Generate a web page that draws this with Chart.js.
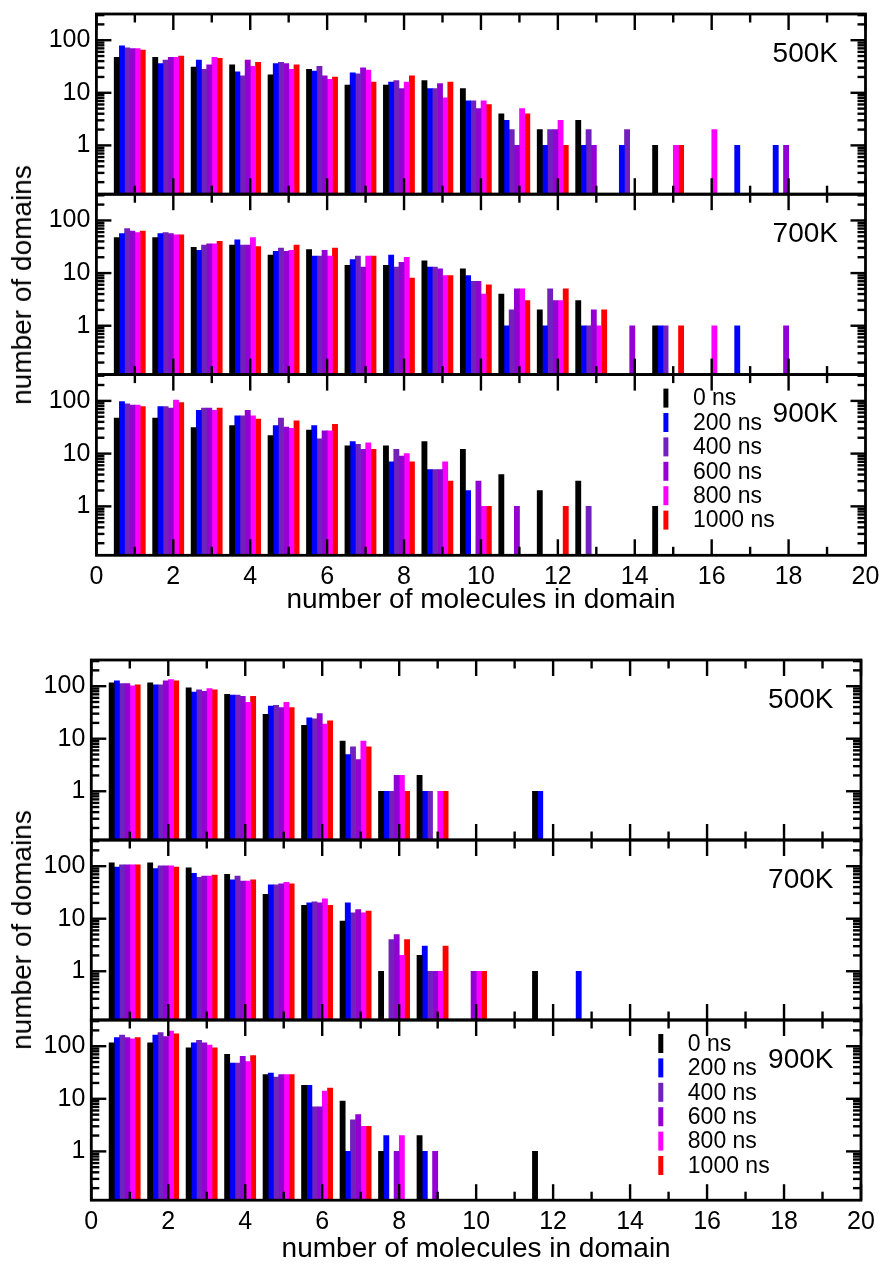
<!DOCTYPE html>
<html>
<head>
<meta charset="utf-8">
<title>Domain size distributions</title>
<script src="https://cdn.jsdelivr.net/npm/chart.js@4.4.1/dist/chart.umd.min.js"></script>
<style>
  html, body { margin:0; padding:0; background:#fff; overflow:hidden; }
  #page { position:relative; width:889px; height:1268px; overflow:hidden; background:#fff; }
  #page canvas { position:absolute; left:0; }
  .ytitle { position:absolute; font-family:"Liberation Sans", Arial, sans-serif; font-size:28px; color:#000;
            white-space:nowrap; transform:translate(-50%,-50%) rotate(-90deg); }
</style>
</head>
<body>
<div id="page"></div>
<script>
// ---------------- data ----------------
const moleculeCounts = [1,2,3,4,5,6,7,8,9,10,11,12,13,14,15,16,17,18];
const seriesLabels = ['0 ns','200 ns','400 ns','600 ns','800 ns','1000 ns'];
const temperatureLabels = ['500K','700K','900K'];
const xTickValues = [0,2,4,6,8,10,12,14,16,18,20];
const yTickValues = [1,10,100];
const xAxisTitle = 'number of molecules in domain';
const yAxisTitle = 'number of domains';

// upper figure
const top_0ns       = [47, 47, 31, 34, 22, 28, 14, 14, 17, 12, 4, 2, 3, null, 1];
const top500_200ns  = [78, 36, 42, 25, 36, 26, 24, 16, 12, 7, 3, 1, 1, 1, null, null, 1, 1];
const top500_400ns  = [72, 42, 28, 21, 38, 32, 23, 17, 12, 7, 2, 2, 2, 2];
const top500_600ns  = [69, 47, 34, 42, 36, 21, 30, 12, 15, 5, 1, 2, 1, null, null, null, null, 1];
const top500_800ns  = [69, 47, 47, 32, 28, 18, 27, 16, 8, 7, 5, 3, null, null, 1, 2];
const top500_1000ns = [65, 50, 45, 38, 34, 20, 16, 21, 16, 6, 4, 1, null, null, 1];

const top700_200ns  = [56, 56, 27, 43, 26, 21, 18, 22, 13, 9, 1, 1, 1, null, 1, null, 1];
const top700_400ns  = [70, 59, 34, 34, 30, 21, 21, 13, 13, 7, 2, 5, 1, null, 1];
const top700_600ns  = [63, 56, 36, 34, 26, 27, 13, 16, 12, 7, 5, 3, 2, 1, null, null, null, 1];
const top700_800ns  = [59, 53, 36, 47, 27, 21, 21, 20, 9, 4, 5, 3, 1, null, null, 1];
const top700_1000ns = [63, 53, 40, 32, 34, 30, 21, 8, 9, 6, 3, 5, 2, null, 1];

const top900_200ns  = [97, 78, 66, 52, 34, 34, 17, 7, 5, 2];
const top900_400ns  = [88, 78, 73, 52, 47, 19, 15, 12, 5, null, null, null, 1];
const top900_600ns  = [83, 73, 73, 66, 32, 27, 12, 9, 5, 3, 1];
const top900_800ns  = [83, 103, 66, 52, 30, 27, 16, 10, 7, 1];
const top900_1000ns = [78, 93, 73, 45, 42, 36, 12, 7, 3, 1, null, 1];

// lower figure
const bottom_0ns       = [116, 116, 93, 70, 29, 18, 9, 1, 2, null, null, 1];
const bottom500_200ns  = [126, 106, 77, 68, 42, 25, 5, 1, 1, null, null, 1];
const bottom500_400ns  = [112, 106, 85, 68, 43, 24, 7, 1, 1];
const bottom500_600ns  = [112, 126, 80, 64, 39, 30, 4, 2];
const bottom500_800ns  = [101, 134, 90, 49, 49, 19, 9, 2, 1];
const bottom500_1000ns = [106, 126, 85, 64, 39, 22, 7, 1, 1];

const bottom700_200ns  = [96, 90, 73, 55, 44, 20, 20, null, 3, null, null, null, 1];
const bottom700_400ns  = [106, 101, 61, 65, 44, 21, 13, 4, 1];
const bottom700_600ns  = [106, 101, 65, 52, 46, 20, 15, 5, 1, 1];
const bottom700_800ns  = [106, 101, 65, 52, 49, 24, 13, 2, 1, 1];
const bottom700_1000ns = [106, 96, 68, 55, 46, 18, 14, 4, 3, 1];

const bottom900_200ns  = [146, 162, 116, 48, 31, 18, 1, 2, 1];
const bottom900_400ns  = [162, 182, 130, 48, 26, 7, 4];
const bottom900_600ns  = [146, 153, 116, 64, 29, 7, 5, 1, 1];
const bottom900_800ns  = [138, 194, 105, 51, 29, 14, 3, 2];
const bottom900_1000ns = [146, 172, 93, 66, 29, 16, 3];

// ---------------- style / layout ----------------
const seriesColors = ['#000000', '#0000ff', '#7221bc', '#9400d3', '#ff00ff', '#ff0000'];
const seriesShift  = [-0.47, -0.335, -0.2, -0.065, 0.07, 0.205]; // bar offset within a group (x units)
const FONT = '"Liberation Sans", Arial, sans-serif';
const FIGS = [
  { left: 96.4, right: 865.5, tops: [14, 194.2, 374.6], bottom: 555.3, titleY: 285, xTitleOff: 45 },
  { left: 91.3, right: 861.0, tops: [660, 840, 1020],   bottom: 1200.2, titleY: 930, xTitleOff: 49 }
];
const Y_MIN = 0.118, Y_MAX = 315;
const PAD = 30, XAXIS_EXTRA = 68;

const panels = [
  { fig: 0, row: 0, label: temperatureLabels[0], series: [top_0ns, top500_200ns, top500_400ns, top500_600ns, top500_800ns, top500_1000ns] },
  { fig: 0, row: 1, label: temperatureLabels[1], series: [top_0ns, top700_200ns, top700_400ns, top700_600ns, top700_800ns, top700_1000ns] },
  { fig: 0, row: 2, label: temperatureLabels[2], series: [top_0ns, top900_200ns, top900_400ns, top900_600ns, top900_800ns, top900_1000ns] },
  { fig: 1, row: 0, label: temperatureLabels[0], series: [bottom_0ns, bottom500_200ns, bottom500_400ns, bottom500_600ns, bottom500_800ns, bottom500_1000ns] },
  { fig: 1, row: 1, label: temperatureLabels[1], series: [bottom_0ns, bottom700_200ns, bottom700_400ns, bottom700_600ns, bottom700_800ns, bottom700_1000ns] },
  { fig: 1, row: 2, label: temperatureLabels[2], series: [bottom_0ns, bottom900_200ns, bottom900_400ns, bottom900_600ns, bottom900_800ns, bottom900_1000ns] }
];

// frame, inward ticks, panel label and legend
const decorPlugin = {
  id: 'decor',
  afterDraw(chart, args, opts) {
    const { ctx, chartArea: a, scales: { x, y } } = chart;
    ctx.save();
    ctx.strokeStyle = '#000';
    ctx.lineWidth = 2.4;
    const line = (x1, y1, x2, y2) => { ctx.beginPath(); ctx.moveTo(x1, y1); ctx.lineTo(x2, y2); ctx.stroke(); };
    for (let v = x.min; v <= x.max; v++) {
      const px = x.getPixelForValue(v);
      const len = v % 2 === 0 ? 16 : 8.5;
      line(px, a.top, px, a.top + len);
      line(px, a.bottom, px, a.bottom - len);
    }
    for (const d of [0.1, 1, 10, 100]) {
      for (let m = 1; m <= 9; m++) {
        const v = m * d;
        if (v < y.min || v > y.max) continue;
        const py = y.getPixelForValue(v);
        const len = m === 1 ? 15 : 8;
        line(a.left, py, a.left + len, py);
        line(a.right, py, a.right - len, py);
      }
    }
    ctx.lineWidth = 2.8;
    ctx.strokeRect(a.left, a.top, a.right - a.left, a.bottom - a.top);

    ctx.fillStyle = '#000';
    ctx.font = '28px ' + FONT;
    ctx.textAlign = 'right';
    ctx.textBaseline = 'alphabetic';
    ctx.fillText(opts.label, a.right - 27.5, a.top + 47.5);

    if (opts.legend) {
      ctx.font = '23px ' + FONT;
      ctx.textAlign = 'left';
      ctx.textBaseline = 'middle';
      chart.data.datasets.forEach((ds, k) => {
        const cy = a.top + 23.5 + k * 24.4;
        ctx.fillStyle = ds.backgroundColor;
        ctx.fillRect(a.left + 567, cy - 9.5, 5, 19);
        ctx.fillStyle = '#000';
        ctx.fillText(ds.label, a.left + 596.5, cy + 1);
      });
    }
    ctx.restore();
  }
};

const page = document.getElementById('page');

panels.forEach(p => {
  const fig = FIGS[p.fig];
  const top = fig.tops[p.row];
  const isLast = p.row === 2;
  const bottom = isLast ? fig.bottom : fig.tops[p.row + 1];
  const cTop = Math.floor(top) - PAD;
  const cBottom = Math.ceil(bottom + (isLast ? XAXIS_EXTRA : PAD));
  const cW = 960, cH = cBottom - cTop;
  const canvas = document.createElement('canvas');
  canvas.width = cW; canvas.height = cH;
  canvas.style.top = cTop + 'px';
  canvas.style.width = cW + 'px'; canvas.style.height = cH + 'px';
  page.appendChild(canvas);

  const padTop = top - cTop;
  const xh = cBottom - bottom;
  const datasets = p.series.map((vals, k) => ({
    label: seriesLabels[k],
    data: vals.map((v, i) => ({ x: moleculeCounts[i] + seriesShift[k], y: v })),
    backgroundColor: seriesColors[k],
    borderWidth: 0,
    grouped: false,
    barThickness: 5.2,
    maxBarThickness: 5.2,
    categoryPercentage: 1,
    barPercentage: 1
  }));

  const xScale = {
    type: 'linear',
    min: 0, max: 20,
    bounds: 'data',
    offset: false,
    display: isLast,
    grid: { display: false, drawTicks: false, tickLength: 0, offset: false },
    border: { display: false },
    afterBuildTicks: s => { s.ticks = xTickValues.map(v => ({ value: v })); },
    ticks: {
      color: '#000', font: { family: FONT, size: 25 }, padding: 7.2,
      maxRotation: 0, autoSkip: false, callback: v => String(v)
    },
    title: {
      display: true, text: xAxisTitle, color: '#000',
      font: { family: FONT, size: 28, lineHeight: 1.2 },
      padding: { top: 0, bottom: xh - fig.xTitleOff - 16.8 }
    }
  };
  if (isLast) xScale.afterFit = s => { s.height = xh; };

  new Chart(canvas, {
    type: 'bar',
    data: { datasets },
    options: {
      responsive: false,
      animation: false,
      devicePixelRatio: 1,
      events: [],
      layout: { padding: { top: padTop, left: 0, right: cW - fig.right, bottom: isLast ? 0 : (cH - (bottom - cTop)) } },
      plugins: {
        legend: { display: false },
        tooltip: { enabled: false },
        decor: { label: p.label, legend: isLast }
      },
      scales: {
        x: xScale,
        y: {
          type: 'logarithmic',
          min: Y_MIN, max: Y_MAX,
          bounds: 'data',
          grid: { display: false, drawTicks: false, tickLength: 0 },
          border: { display: false },
          afterBuildTicks: s => { s.ticks = yTickValues.map(v => ({ value: v })); },
          afterFit: s => { s.width = fig.left; },
          ticks: { color: '#000', font: { family: FONT, size: 25 }, padding: 6, callback: v => String(v) }
        }
      }
    },
    plugins: [decorPlugin]
  });
});

FIGS.forEach(fig => {
  const d = document.createElement('div');
  d.className = 'ytitle';
  d.textContent = yAxisTitle;
  d.style.left = '22px';
  d.style.top = fig.titleY + 'px';
  page.appendChild(d);
});
</script>
</body>
</html>
